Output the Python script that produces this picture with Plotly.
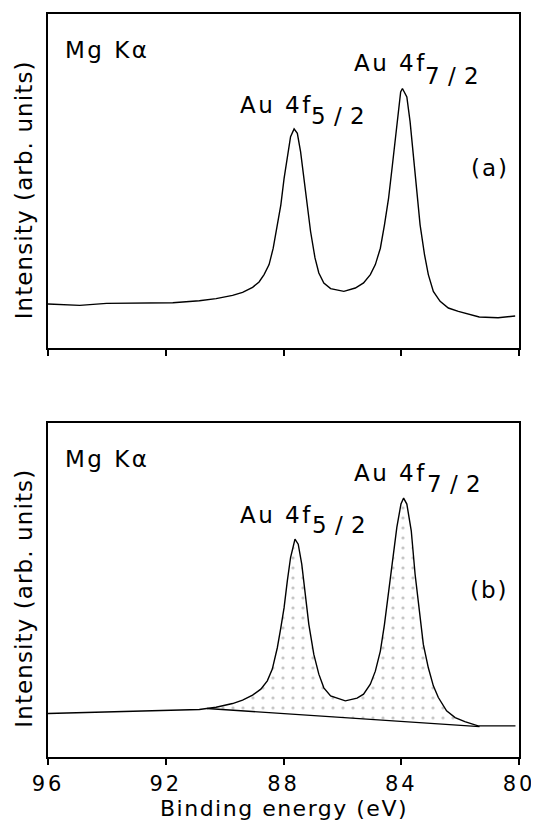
import numpy as np
import plotly.graph_objects as go
from plotly.subplots import make_subplots

# ---- data ----
# panel (a): Au 4f spectrum, binding energy (eV) and intensity (arb. units)
energy_a = [96.00, 94.92, 94.01, 92.89, 91.76, 90.86, 90.29, 89.73, 89.39, 89.05,
            88.83, 88.66, 88.49, 88.35, 88.21, 88.09, 87.98, 87.87, 87.76, 87.64,
            87.53, 87.42, 87.31, 87.19, 87.08, 86.93, 86.80, 86.63, 86.40, 85.95,
            85.56, 85.28, 85.05, 84.88, 84.71, 84.57, 84.43, 84.30, 84.18, 84.09,
            84.02, 83.96, 83.89, 83.81, 83.70, 83.58, 83.47, 83.36, 83.21, 83.08,
            82.91, 82.68, 82.40, 82.06, 81.35, 80.71, 80.13]
intensity_a = [0.132, 0.128, 0.134, 0.136, 0.136, 0.142, 0.148, 0.158, 0.167, 0.182,
               0.198, 0.220, 0.250, 0.299, 0.369, 0.429, 0.508, 0.578, 0.633, 0.656,
               0.643, 0.588, 0.508, 0.429, 0.349, 0.270, 0.225, 0.195, 0.178, 0.170,
               0.180, 0.195, 0.220, 0.250, 0.299, 0.369, 0.449, 0.548, 0.648, 0.727,
               0.767, 0.777, 0.767, 0.752, 0.678, 0.578, 0.469, 0.369, 0.280, 0.220,
               0.170, 0.140, 0.120, 0.110, 0.093, 0.091, 0.096]

# panel (b): same spectrum with linear background and shaded peak area
energy_b = [96.00, 92.97, 91.60, 90.86, 90.29, 89.73, 89.39, 89.05, 88.77, 88.55,
            88.38, 88.21, 88.09, 87.98, 87.87, 87.76, 87.61, 87.50, 87.38, 87.27,
            87.14, 86.97, 86.80, 86.63, 86.40, 85.90, 85.50, 85.28, 85.05, 84.88,
            84.71, 84.57, 84.43, 84.30, 84.15, 84.01, 83.92, 83.81, 83.66, 83.53,
            83.39, 83.25, 83.08, 82.91, 82.74, 82.46, 82.17, 81.84, 81.39, 80.12]
intensity_b = [0.130, 0.136, 0.139, 0.142, 0.149, 0.160, 0.170, 0.185, 0.203, 0.228,
               0.263, 0.327, 0.387, 0.447, 0.527, 0.597, 0.652, 0.637, 0.577, 0.487,
               0.397, 0.307, 0.248, 0.207, 0.183, 0.168, 0.176, 0.188, 0.218, 0.257,
               0.317, 0.397, 0.497, 0.597, 0.687, 0.757, 0.775, 0.757, 0.677, 0.547,
               0.437, 0.337, 0.267, 0.213, 0.178, 0.138, 0.118, 0.106, 0.093, 0.093]

background_energy = [90.60, 81.34]
background_intensity = [0.145, 0.091]

x_ticks = [96, 92, 88, 84, 80]
x_tick_labels = ["96", "92", "88", "84", "80"]

FONT = "DejaVu Sans"
FS = 23


def spaced(text, px):
    return "<span style='letter-spacing:%spx'>%s</span>" % (px, text)


fig = make_subplots(rows=2, cols=1, vertical_spacing=0.1006)

# panel (a)
fig.add_trace(go.Scatter(x=energy_a, y=intensity_a, mode="lines",
                         line=dict(color="black", width=1.4), showlegend=False),
              row=1, col=1)

# panel (b): background line + shaded area + spectrum
eb = np.array(energy_b)
ib = np.array(intensity_b)
mask = (eb < background_energy[0]) & (eb > background_energy[1])
e_fill = np.concatenate([[background_energy[0]], eb[mask], [background_energy[1]]])
curve_fill = np.interp(e_fill, eb[::-1], ib[::-1])
bg_fill = np.interp(e_fill, background_energy[::-1], background_intensity[::-1])

fig.add_trace(go.Scatter(x=e_fill, y=bg_fill, mode="lines",
                         line=dict(color="black", width=1.4), showlegend=False),
              row=2, col=1)
fig.add_trace(go.Scatter(x=e_fill, y=curve_fill, mode="lines", fill="tonexty",
                         line=dict(width=0, color="rgba(0,0,0,0)"),
                         fillpattern=dict(shape=".", size=10, solidity=0.08,
                                          fgcolor="#888888", bgcolor="rgba(0,0,0,0)"),
                         showlegend=False),
              row=2, col=1)
fig.add_trace(go.Scatter(x=energy_b, y=intensity_b, mode="lines",
                         line=dict(color="black", width=1.4), showlegend=False),
              row=2, col=1)

axis_common = dict(showline=True, mirror=True, linecolor="black", linewidth=1.5,
                   showgrid=False, zeroline=False)

fig.update_xaxes(range=[96, 80], tickvals=x_ticks,
                 ticktext=[spaced(t, 3) for t in x_tick_labels],
                 ticks="outside", ticklen=6, tickwidth=1.5, tickcolor="black",
                 ticklabelstandoff=1,
                 tickfont=dict(family=FONT, size=21, color="black"),
                 **axis_common)
fig.update_xaxes(showticklabels=False, row=1, col=1)
fig.update_yaxes(range=[0, 1], showticklabels=False, ticks="", **axis_common)

# the page body adds an 8 px offset; size the figure so it fills the window
fig.update_layout(
    width=531, height=812,
    margin=dict(l=40, r=17, t=4, b=63),
    plot_bgcolor="white", paper_bgcolor="white",
    font=dict(family=FONT, size=FS, color="black"),
)


def ann(text, x, y, ref, xanchor="left", sp=2.5):
    fig.add_annotation(text=spaced(text, sp), x=x, y=y, xref="x" + ref, yref="y" + ref,
                       xanchor=xanchor, yanchor="middle", showarrow=False,
                       font=dict(family=FONT, size=FS, color="black"))


# panel (a) labels
ann("Mg K\u03b1", 95.49, 0.893, "")
ann("Au 4f", 85.69, 0.853, "")
ann("7 / 2", 83.25, 0.815, "", sp=0.5)
ann("Au 4f", 89.56, 0.727, "")
ann("5 / 2", 87.14, 0.696, "", sp=0.5)
ann("(a)", 81.0, 0.538, "", xanchor="center", sp=2)

# panel (b) labels
ann("Mg K\u03b1", 95.49, 0.892, "2")
ann("Au 4f", 85.69, 0.850, "2")
ann("7 / 2", 83.19, 0.816, "2", sp=0.5)
ann("Au 4f", 89.53, 0.725, "2")
ann("5 / 2", 87.10, 0.695, "2", sp=0.5)
ann("(b)", 81.0, 0.500, "2", xanchor="center", sp=2)

# axis titles
for yc in (0.764, 0.2144):
    fig.add_annotation(text=spaced("Intensity (arb. units)", 1.1), x=-0.051, y=yc,
                       xref="paper", yref="paper", textangle=-90,
                       xanchor="center", yanchor="middle", showarrow=False,
                       font=dict(family=FONT, size=FS, color="black"))
fig.add_annotation(text=spaced("Binding energy (eV)", 1.5), x=0.5, y=-0.069,
                   xref="paper", yref="paper", xanchor="center", yanchor="middle",
                   showarrow=False, font=dict(family=FONT, size=22, color="black"))

fig.write_html("out.html")
